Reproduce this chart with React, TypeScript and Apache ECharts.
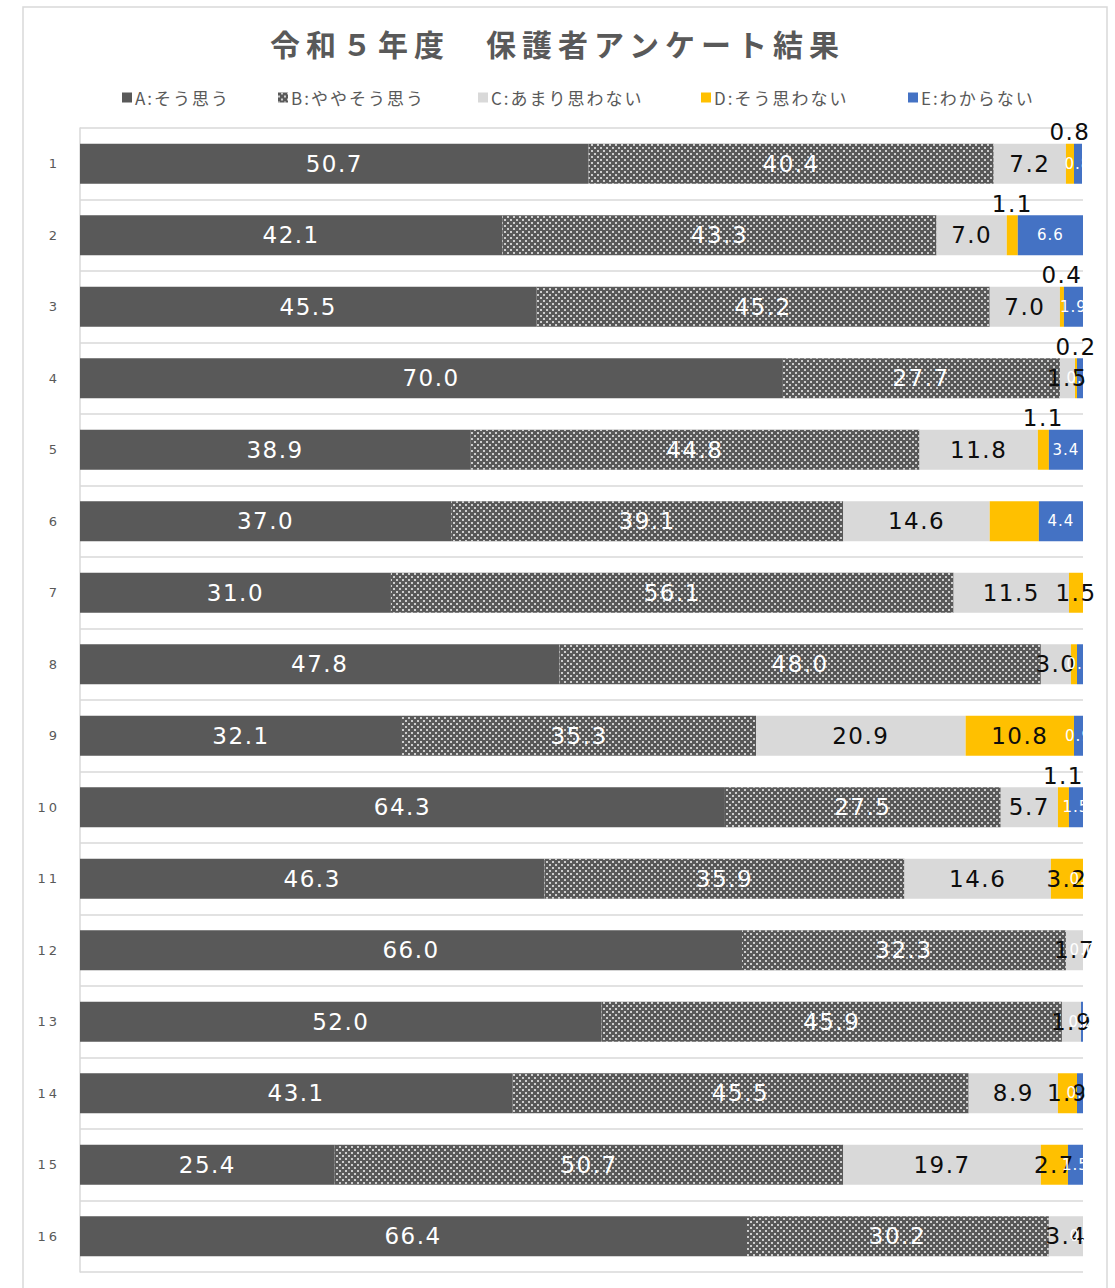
import React, { useEffect, useRef } from "react";
import * as echarts from "echarts";

const titleText = "令和５年度　保護者アンケート結果";
const categories = ["1", "2", "3", "4", "5", "6", "7", "8", "9", "10", "11", "12", "13", "14", "15", "16"];
const seriesNames = ["A:そう思う", "B:ややそう思う", "C:あまり思わない", "D:そう思わない", "E:わからない"];

const valuesA = [50.7, 42.1, 45.5, 70.0, 38.9, 37.0, 31.0, 47.8, 32.1, 64.3, 46.3, 66.0, 52.0, 43.1, 25.4, 66.4];
const valuesB = [40.4, 43.3, 45.2, 27.7, 44.8, 39.1, 56.1, 48.0, 35.3, 27.5, 35.9, 32.3, 45.9, 45.5, 50.7, 30.2];
const valuesC = [7.2, 7.0, 7.0, 1.5, 11.8, 14.6, 11.5, 3.0, 20.9, 5.7, 14.6, 1.7, 1.9, 8.9, 19.7, 3.4];
const valuesD = [0.8, 1.1, 0.4, 0.2, 1.1, 4.9, 1.5, 0.6, 10.8, 1.1, 3.2, 0.0, 0.0, 1.9, 2.7, 0.0];
const valuesE = [0.8, 6.6, 1.9, 0.6, 3.4, 4.4, 0.0, 0.6, 0.9, 1.5, 0.0, 0.0, 0.2, 0.6, 1.5, 0.0];

// rows whose D label sits above the bar, and rows where the D label is not shown
const dLabelAboveRows = [0, 1, 2, 3, 4, 9];
const dLabelHiddenRows = [5, 7];

const colors = ["#595959", "#595959", "#d9d9d9", "#ffc000", "#4472c4"];
const legendLeft = [117, 273, 473, 696, 903];

const fmt = (p: any) => Number(p.value).toFixed(1);

export default function App() {
  const ref = useRef<HTMLDivElement>(null);

  useEffect(() => {
    if (!ref.current) return;
    const chart = echarts.init(ref.current, null, { renderer: "svg" });

    const bigLabel = (color: string) => ({
      show: true,
      position: "inside" as const,
      color,
      fontSize: 23,
      fontFamily: "DejaVu Sans",
      formatter: fmt,
    });

    const dotDecal = {
      symbol: "rect",
      symbolSize: 1,
      color: "rgba(255,255,255,0.7)",
      dashArrayX: [
        [2, 4],
        [0, 3, 2, 1],
      ],
      dashArrayY: [2, 1],
      rotation: 0,
    };

    const dData = valuesD.map((v, i) => {
      if (dLabelHiddenRows.includes(i) || v === 0) {
        return { value: v, label: { show: false } };
      }
      if (dLabelAboveRows.includes(i)) {
        return { value: v, label: { position: "top", distance: 0 } };
      }
      return { value: v };
    });

    const base = {
      type: "bar" as const,
      stack: "total",
      barWidth: 40,
    };

    chart.setOption({
      animation: false,
      backgroundColor: "#ffffff",
      title: {
        text: titleText,
        left: "center",
        top: 28,
        padding: [0, 0, 0, 24],
        textStyle: {
          fontSize: 30,
          fontWeight: "bold",
          color: "#595959",
          fontFamily: "Noto Sans CJK JP",
        },
      },
      legend: seriesNames.map((name, i) => ({
        data: [name],
        left: legendLeft[i],
        top: 84,
        itemWidth: 10,
        itemHeight: 10,
        itemGap: 0,
        icon: "rect",
        textStyle: {
          fontSize: 17,
          color: "#595959",
          fontFamily: "Noto Sans CJK JP",
          padding: [0, 0, 0, -2],
        },
      })),
      grid: {
        left: 80,
        right: 32,
        top: 128,
        bottom: 16,
      },
      xAxis: {
        type: "value",
        min: 0,
        max: 100,
        show: false,
      },
      yAxis: {
        type: "category",
        data: categories,
        inverse: true,
        axisLine: { show: true, lineStyle: { color: "#d9d9d9", width: 1.5 } },
        axisTick: { show: false },
        splitLine: { show: true, lineStyle: { color: "#d9d9d9", width: 1.5 } },
        axisLabel: {
          color: "#595959",
          fontSize: 13,
          margin: 20,
          fontFamily: "DejaVu Sans",
        },
      },
      graphic: [
        {
          type: "rect",
          shape: { x: 23, y: 7, width: 1084, height: 1300 },
          style: { fill: "none", stroke: "#d9d9d9", lineWidth: 1.5 },
          silent: true,
          z: -10,
        },
      ],
      series: [
        {
          ...base,
          name: seriesNames[0],
          data: valuesA,
          itemStyle: { color: colors[0] },
          label: bigLabel("#ffffff"),
        },
        {
          ...base,
          name: seriesNames[1],
          data: valuesB,
          itemStyle: { color: colors[1], decal: dotDecal },
          label: bigLabel("#ffffff"),
        },
        {
          ...base,
          name: seriesNames[2],
          data: valuesC,
          itemStyle: { color: colors[2] },
          label: bigLabel("#0d0d0d"),
        },
        {
          ...base,
          name: seriesNames[3],
          data: dData,
          itemStyle: { color: colors[3] },
          label: bigLabel("#0d0d0d"),
        },
        {
          ...base,
          name: seriesNames[4],
          data: valuesE,
          itemStyle: { color: colors[4] },
          label: {
            show: true,
            position: "inside",
            color: "#ffffff",
            fontSize: 15,
            fontFamily: "DejaVu Sans",
            formatter: fmt,
          },
        },
      ],
    });

    return () => chart.dispose();
  }, []);

  return (
    <>
      <style>{`
        #chart-box svg text[style*="30px"] { letter-spacing: 6px; }
        #chart-box svg text[style*="23px"] { letter-spacing: 1.5px; }
        #chart-box svg text[style*="15px"] { letter-spacing: 1px; }
        #chart-box svg text[style*="17px"] { letter-spacing: 2px; }
        #chart-box svg text[style*="13px"] { letter-spacing: 3px; }
      `}</style>
      <div
        id="chart-box"
        ref={ref}
        style={{ position: "absolute", left: 0, top: 0, width: 1115, height: 1288 }}
      />
    </>
  );
}
